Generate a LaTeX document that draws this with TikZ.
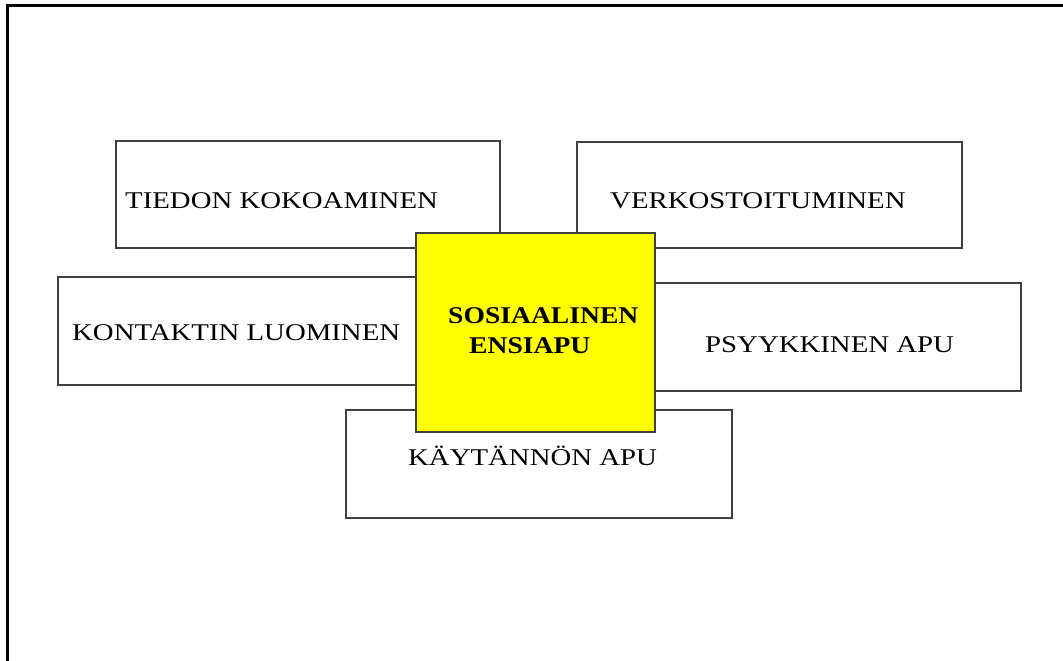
\documentclass[tikz,border=0pt]{standalone}
\usepackage{fontspec}
\newfontfamily\boxfont[FakeStretch=1.2]{Liberation Serif}
\newfontfamily\centerfont[FakeStretch=1.15]{Liberation Serif}
\definecolor{boxline}{HTML}{404040}
\definecolor{centeryellow}{HTML}{FFFF00}
\begin{document}
\begin{tikzpicture}[x=1pt,y=-1pt,
  box/.style={draw=boxline,line width=1.4pt,fill=white,inner sep=0pt},
  centerbox/.style={draw=boxline,line width=1.4pt,fill=centeryellow,inner sep=0pt},
  label/.style={anchor=base west,inner sep=0pt,font=\boxfont\fontsize{24}{28}\selectfont},
  clabel/.style={anchor=base west,inner sep=0pt,font=\centerfont\bfseries\fontsize{24}{28}\selectfont}]
\useasboundingbox (0,0) rectangle (1063,661);
\draw[line width=3pt,black] (7.5,700) -- (7.5,5.5) -- (1100,5.5);
\node[box,minimum width=384pt,minimum height=107pt] (tiedon) at (308,194.5) {};
\node[box,minimum width=385pt,minimum height=106pt] (verk) at (769.5,195) {};
\node[box,minimum width=384pt,minimum height=108pt] (kontakt) at (250,331) {};
\node[box,minimum width=384pt,minimum height=108pt] (psyyk) at (829,337) {};
\node[box,minimum width=386pt,minimum height=108pt] (kayt) at (539,464) {};
\node[label] (tiedontxt) at (125,208) {TIEDON KOKOAMINEN};
\node[label] (verktxt) at (610,208) {VERKOSTOITUMINEN};
\node[label] (kontakttxt) at (72,340) {KONTAKTIN LUOMINEN};
\node[label] (psyyktxt) at (705,352) {PSYYKKINEN APU};
\node[label] (kayttxt) at (408,465) {KÄYTÄNNÖN APU};
\node[centerbox,minimum width=239pt,minimum height=199pt] (center) at (535.5,332.5) {};
\node[clabel] (ctxt1) at (448,323) {SOSIAALINEN};
\node[clabel] (ctxt2) at (469,353) {ENSIAPU};
\end{tikzpicture}
\end{document}
